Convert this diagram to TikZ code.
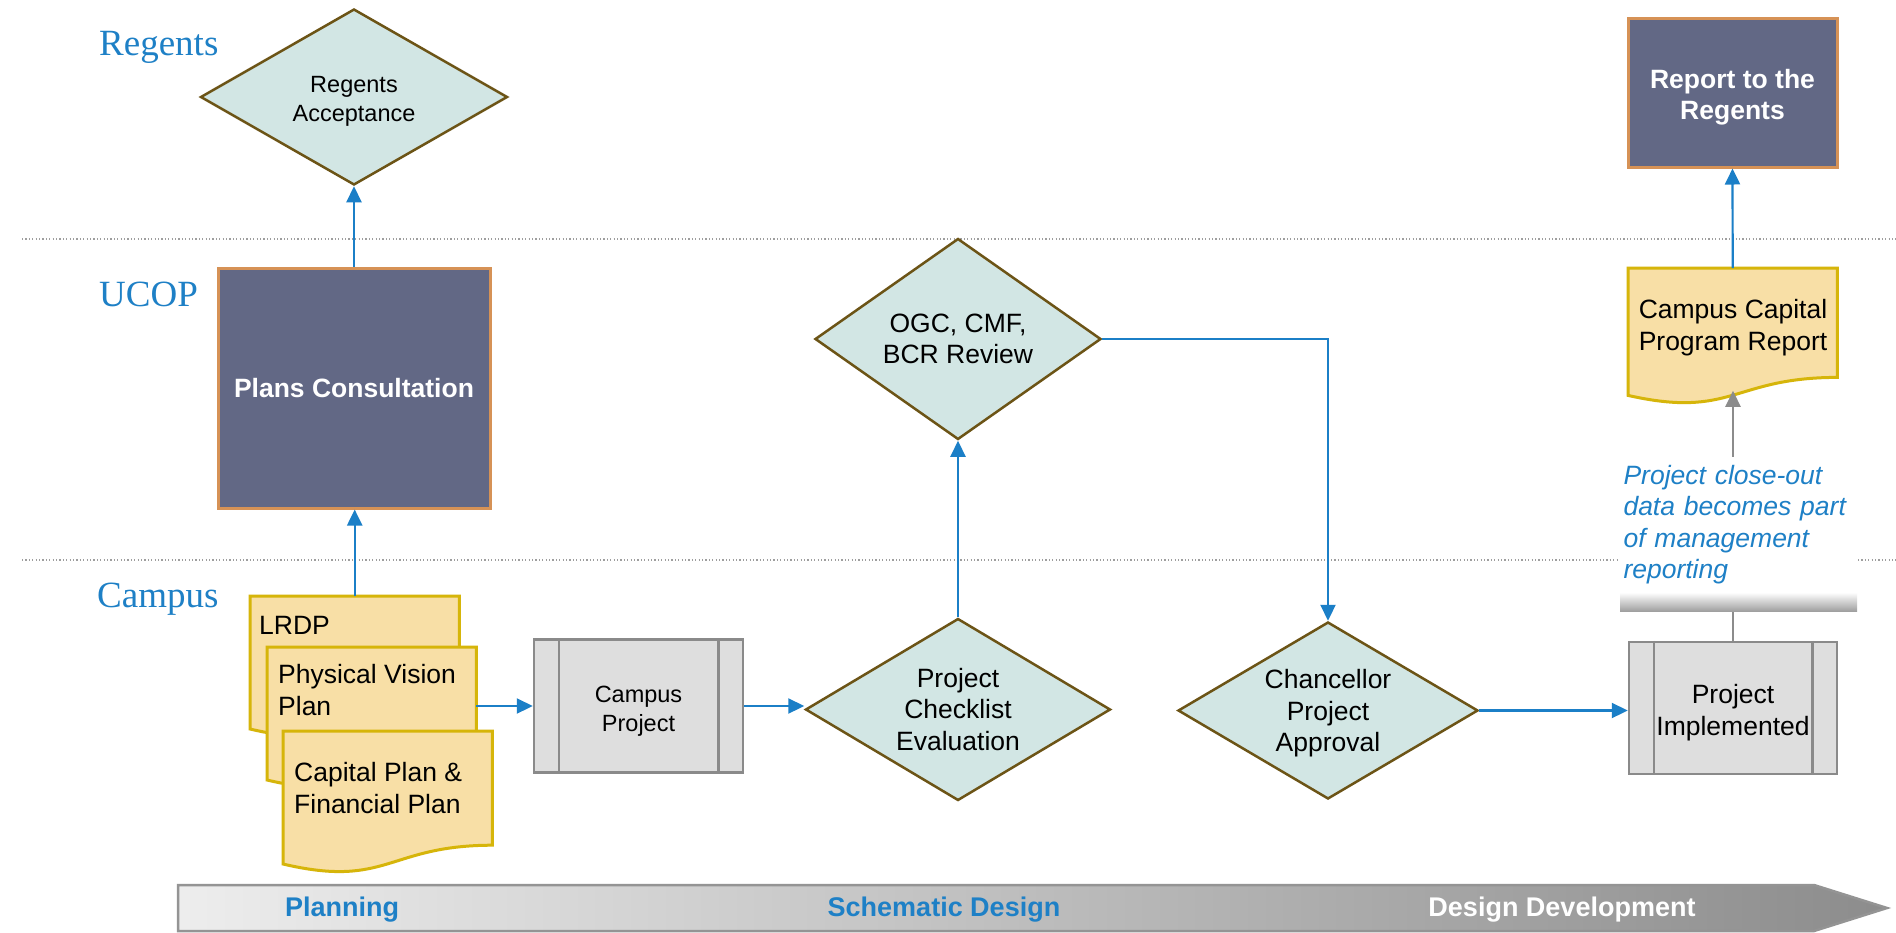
\documentclass[tikz,border=0pt]{standalone}
\usepackage{fontspec}
\setmainfont{Liberation Serif}
\setsansfont{Liberation Sans}
\usetikzlibrary{shapes.geometric,arrows.meta,calc}
\definecolor{lblue}{RGB}{30,128,198}
\definecolor{abl}{RGB}{27,127,199}
\definecolor{dfill}{RGB}{210,230,228}
\definecolor{ddraw}{RGB}{108,84,22}
\definecolor{bfill}{RGB}{98,104,133}
\definecolor{bdraw}{RGB}{214,146,86}
\definecolor{docfill}{RGB}{248,223,166}
\definecolor{docdraw}{RGB}{214,181,10}
\definecolor{pfill}{RGB}{222,222,222}
\definecolor{pdraw}{RGB}{138,138,138}
\definecolor{gline}{RGB}{140,140,140}
\newcommand\fs[2]{\fontsize{#1}{#2}\selectfont}
\newcommand\docpath[1]{\path[docshape] (#1.north west) -- (#1.north east) -- ($(#1.north east)!0.802!(#1.south east)$) .. controls ($(#1.north)!0.802!(#1.south)$) and ($(#1.north)!1.107!(#1.south)$) .. ($(#1.north west)!0.934!(#1.south west)$) -- cycle;}
\begin{document}
\begin{tikzpicture}[x=1pt,y=-1pt,
 lanelabel/.style={font=\rmfamily\fs{37}{40},text=lblue,anchor=west,inner sep=0pt},
 sepline/.style={black!38,line width=1.2pt,dash pattern=on 1.2pt off 2.2pt},
 decision/.style={diamond,aspect=1.6,fill=dfill,draw=ddraw,line width=2.5pt,inner sep=0pt,align=center,font=\sffamily\fs{26.5}{31.5}},
 darkbox/.style={rectangle,fill=bfill,draw=bdraw,line width=3pt,text=white,font=\sffamily\bfseries\fs{26.5}{31},align=center,inner sep=0pt},
 process/.style={rectangle,fill=pfill,draw=pdraw,line width=2.5pt,align=center,inner sep=0pt,font=\sffamily\fs{26.5}{32}},
 intext/.style={align=center,inner sep=0pt,font=\sffamily\fs{26.5}{31.5}},
 docframe/.style={rectangle,draw=none,inner sep=0pt,minimum width=209pt,minimum height=142pt,anchor=north west},
 docshape/.style={fill=docfill,draw=docdraw,line width=3pt},
 doctext/.style={font=\sffamily\fs{26.5}{32},align=left,inner sep=0pt,anchor=north west},
 flow/.style={abl,line width=2.2pt,-{Triangle[length=16pt,width=15pt]}},
 grayflow/.style={gline,line width=2.2pt,-{Triangle[length=16pt,width=15pt]}},
 grayline/.style={gline,line width=2.2pt},
 bartext/.style={font=\sffamily\bfseries\fs{27}{30},inner sep=0pt}
]
\useasboundingbox[fill=white] (0,0) rectangle (1896,932);

% lane separators
\draw[sepline] (22,239) -- (1896,239);
\draw[sepline] (22,560) -- (1896,560);

% lane labels
\node[lanelabel] (lRegents) at (99,47.5) {Regents};
\node[lanelabel] (lUCOP) at (99,294) {UCOP};
\node[lanelabel] (lCampus) at (97,599) {Campus};

% Regents row
\node[decision,minimum width=307pt,minimum height=176pt] (regacc) at (354,97) {};
\node[intext,font=\sffamily\fs{23.5}{29}] (regaccT) at ([yshift=-4pt]regacc.center) {Regents\\Acceptance};
\node[darkbox,minimum width=209pt,minimum height=149pt] (report) at (1732.5,92.5) {};
\node[intext,text=white,font=\sffamily\bfseries\fs{26.5}{31}] (reportT) at ([yshift=-4.5pt]report.center) {Report to the\\Regents};

% UCOP row
\node[darkbox,minimum width=272pt,minimum height=240pt] (plans) at (354,388) {Plans Consultation};
\node[decision,minimum width=286pt,minimum height=201pt] (ogc) at (958,339) {OGC, CMF,\\BCR Review};

% campus capital program report document
\node[docframe,minimum height=136pt] (ccpr) at (1628,268) {};
\docpath{ccpr}
\node[font=\sffamily\fs{26.5}{32},align=center,inner sep=0pt] (ccprT) at (1733,327.5) {Campus Capital\\Program Report};

% note box
\node[rectangle,fill=white,minimum width=237pt,minimum height=135pt,text width=230pt,inner xsep=3.5pt,inner ysep=0pt,align=left,font=\sffamily\itshape\fs{26.5}{31.5},text=lblue] (note) at (1738.5,524.5) {Project close-out\\data becomes part\\of management\\reporting};
\node[rectangle,minimum width=237pt,minimum height=19pt,inner sep=0pt,top color=white,bottom color=black!38,anchor=north] (strip) at (note.south) {};

% Campus row documents
\node[docframe] (lrdp) at (250,596) {};
\docpath{lrdp}
\node[doctext] (lrdpT) at (259,616) {LRDP};
\node[docframe] (pvp) at (267,647) {};
\docpath{pvp}
\node[doctext] (pvpT) at (278,664.5) {Physical Vision\\Plan};
\node[docframe] (capf) at (283,731) {};
\docpath{capf}
\node[doctext] (capfT) at (294,762.5) {Capital Plan \&\\Financial Plan};

% processes
\node[process,minimum width=209pt,minimum height=133pt] (cproj) at (638.5,706) {};
\draw[pdraw,line width=2.5pt] ([xshift=26pt]cproj.north west) -- ([xshift=26pt]cproj.south west);
\draw[pdraw,line width=2.5pt] ([xshift=-26pt]cproj.north east) -- ([xshift=-26pt]cproj.south east);
\node[intext,font=\sffamily\fs{23.5}{29}] (cprojT) at ([yshift=-5pt]cproj.center) {Campus\\Project};

\node[decision,minimum width=305pt,minimum height=182pt] (check) at (958,709.5) {Project\\Checklist\\Evaluation};
\node[decision,minimum width=300pt,minimum height=177pt] (chanc) at (1328,710.5) {};
\node[intext] (chancT) at ([yshift=-3pt]chanc.center) {Chancellor\\Project\\Approval};

\node[process,minimum width=208pt,minimum height=132pt] (impl) at (1733,708) {};
\draw[pdraw,line width=2.5pt] ([xshift=26pt]impl.north west) -- ([xshift=26pt]impl.south west);
\draw[pdraw,line width=2.5pt] ([xshift=-26pt]impl.north east) -- ([xshift=-26pt]impl.south east);
\node[intext,font=\sffamily\fs{26.5}{32}] (implT) at ([yshift=-5pt]impl.center) {Project\\Implemented};

% connectors
\draw[flow] (lrdp.north) -- (lrdp.north |- plans.south);
\draw[flow] (plans.north) -- (regacc.south);
\draw[flow] (pvp.east |- cproj.west) -- (cproj.west);
\draw[flow] (cproj.east) -- (cproj.east -| check.west);
\draw[flow] (check.north) -- (ogc.south);
\draw[flow] (ogc.east) -| (chanc.north);
\draw[flow] (chanc.east) -- (chanc.east -| impl.west);
\draw[flow] (ccpr.north) -- (report.south);
\draw[grayline] (impl.north) -- (impl.north |- strip.south);
\draw[grayflow] (impl.north |- note.north) -- (impl.north |- {$(ccpr.north)!0.9!(ccpr.south)$});

% phase bar
\path[left color=black!7,right color=black!45,draw=black!42,line width=2.5pt] (178,885) -- (1814,885) -- (1887,908) -- (1814,931) -- (178,931) -- cycle;
\node[bartext,text=lblue] (pPlan) at (342,910) {Planning};
\node[bartext,text=lblue] (pSchem) at (944,910) {Schematic Design};
\node[bartext,text=white] (pDev) at (1562,910) {Design Development};
\end{tikzpicture}
\end{document}
